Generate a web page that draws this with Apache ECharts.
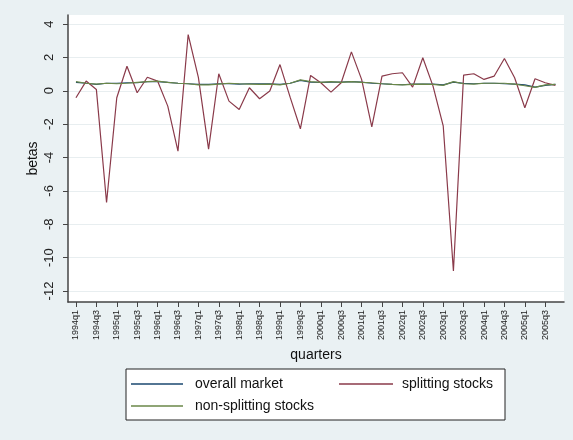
<!DOCTYPE html>
<html>
<head>
<meta charset="utf-8">
<script src="https://cdn.jsdelivr.net/npm/echarts@6/dist/echarts.min.js"></script>
<style>
  html, body { margin: 0; padding: 0; background: #eaf1f3; }
  #main { width: 573px; height: 440px; }
</style>
</head>
<body>
<div id="main"></div>
<script>
// quarters 1994q1 .. 2005q4
const quarters = [
  '1994q1', '1994q2', '1994q3', '1994q4', '1995q1', '1995q2', '1995q3', '1995q4',
  '1996q1', '1996q2', '1996q3', '1996q4', '1997q1', '1997q2', '1997q3', '1997q4',
  '1998q1', '1998q2', '1998q3', '1998q4', '1999q1', '1999q2', '1999q3', '1999q4',
  '2000q1', '2000q2', '2000q3', '2000q4', '2001q1', '2001q2', '2001q3', '2001q4',
  '2002q1', '2002q2', '2002q3', '2002q4', '2003q1', '2003q2', '2003q3', '2003q4',
  '2004q1', '2004q2', '2004q3', '2004q4', '2005q1', '2005q2', '2005q3', '2005q4',
];
const overallMarket = [
  0.5, 0.45, 0.38, 0.45, 0.45, 0.48, 0.48, 0.55, 0.55, 0.5, 0.45, 0.42,
  0.38, 0.38, 0.42, 0.42, 0.4, 0.42, 0.42, 0.42, 0.38, 0.45, 0.62, 0.52,
  0.5, 0.52, 0.52, 0.55, 0.52, 0.45, 0.42, 0.38, 0.36, 0.4, 0.4, 0.4,
  0.35, 0.52, 0.44, 0.42, 0.45, 0.45, 0.42, 0.4, 0.35, 0.22, 0.32, 0.38,
];
const splittingStocks = [
  -0.42, 0.58, 0.08, -6.7, -0.42, 1.47, -0.12, 0.81, 0.58, -0.92, -3.62, 3.37,
  0.8, -3.5, 1.02, -0.62, -1.12, 0.18, -0.48, -0.02, 1.57, -0.4, -2.28, 0.92,
  0.48, -0.08, 0.48, 2.33, 0.68, -2.16, 0.88, 1.02, 1.08, 0.22, 1.98, 0.28,
  -2.1, -10.8, 0.94, 1.02, 0.68, 0.88, 1.93, 0.78, -1.02, 0.72, 0.48, 0.32,
];
const nonSplittingStocks = [
  0.55, 0.45, 0.4, 0.45, 0.42, 0.45, 0.5, 0.55, 0.58, 0.5, 0.45, 0.42,
  0.35, 0.35, 0.4, 0.45, 0.42, 0.4, 0.38, 0.4, 0.35, 0.45, 0.65, 0.55,
  0.5, 0.55, 0.5, 0.55, 0.5, 0.48, 0.42, 0.38, 0.35, 0.38, 0.4, 0.38,
  0.32, 0.55, 0.42, 0.4, 0.45, 0.45, 0.45, 0.4, 0.3, 0.2, 0.35, 0.38,
];
const yTicks = [-12, -10, -8, -6, -4, -2, 0, 2, 4];
// every other quarter gets a tick label
const xTicks = quarters.map((q, i) => i).filter(i => i % 2 === 0);

const font = 'Liberation Sans, Arial, sans-serif';
// thin line used as legend key
const lineIcon = 'path://M0,0 L52,0 L52,1.3 L0,1.3 Z';

function toPairs(arr) {
  return arr.map((v, i) => [i, v]);
}

const chart = echarts.init(document.getElementById('main'));
const option = {
  backgroundColor: '#eaf1f3',
  animation: false,
  textStyle: { fontFamily: font },
  grid: {
    left: 68,
    right: 9,
    top: 15,
    bottom: 138,
    show: true,
    backgroundColor: '#ffffff',
    borderWidth: 0,
  },
  graphic: [
    {
      type: 'rect',
      z: 0,
      shape: { x: 126, y: 369, width: 379, height: 51 },
      style: { fill: '#ffffff', stroke: '#222', lineWidth: 1 },
    },
  ],
  legend: [
    {
      data: ['overall market', 'non-splitting stocks'],
      orient: 'vertical',
      left: 131,
      top: 377,
      padding: 0,
      icon: lineIcon,
      itemWidth: 52,
      itemHeight: 14,
      itemGap: 8,
      textStyle: { fontSize: 14, color: '#111', fontFamily: font, padding: [0, 0, 0, 7] },
    },
    {
      data: ['splitting stocks'],
      orient: 'vertical',
      left: 339,
      top: 377,
      padding: 0,
      icon: lineIcon,
      itemWidth: 54,
      itemHeight: 14,
      textStyle: { fontSize: 14, color: '#111', fontFamily: font, padding: [0, 0, 0, 4] },
    },
  ],
  xAxis: {
    type: 'value',
    min: -0.78,
    max: 47.84,
    name: 'quarters',
    nameLocation: 'middle',
    nameGap: 46,
    nameTextStyle: { fontSize: 14, color: '#111', fontFamily: font },
    axisLine: { show: true, onZero: false, lineStyle: { color: '#444', width: 1.5 } },
    axisTick: { show: true, length: 5, customValues: xTicks, lineStyle: { color: '#444' } },
    axisLabel: {
      customValues: xTicks,
      rotate: 90,
      margin: 8,
      fontSize: 9,
      color: '#222',
      formatter: v => quarters[Math.round(v)] || '',
    },
    splitLine: { show: false },
  },
  yAxis: {
    type: 'value',
    min: -12.66,
    max: 4.54,
    name: 'betas',
    nameLocation: 'middle',
    nameGap: 28,
    nameMoveOverlap: false,
    nameTextStyle: { fontSize: 14, color: '#111', fontFamily: font },
    axisLine: { show: true, onZero: false, lineStyle: { color: '#444', width: 1.5 } },
    axisTick: { show: true, length: 5, customValues: yTicks, lineStyle: { color: '#444' } },
    axisLabel: {
      customValues: yTicks,
      rotate: 90,
      margin: 12,
      fontSize: 13,
      color: '#222',
    },
    splitLine: { show: true, lineStyle: { color: '#e8eef0', width: 1 } },
  },
  series: [
    {
      name: 'overall market',
      type: 'line',
      symbol: 'none',
      data: toPairs(overallMarket),
      lineStyle: { color: '#1a476f', width: 1.2 },
      itemStyle: { color: '#1a476f' },
    },
    {
      name: 'splitting stocks',
      type: 'line',
      symbol: 'none',
      data: toPairs(splittingStocks),
      lineStyle: { color: '#8a3a4a', width: 1.2 },
      itemStyle: { color: '#8a3a4a' },
    },
    {
      name: 'non-splitting stocks',
      type: 'line',
      symbol: 'none',
      data: toPairs(nonSplittingStocks),
      lineStyle: { color: '#6a8748', width: 1.2 },
      itemStyle: { color: '#6a8748' },
    },
  ],
};
chart.setOption(option);
</script>
</body>
</html>
